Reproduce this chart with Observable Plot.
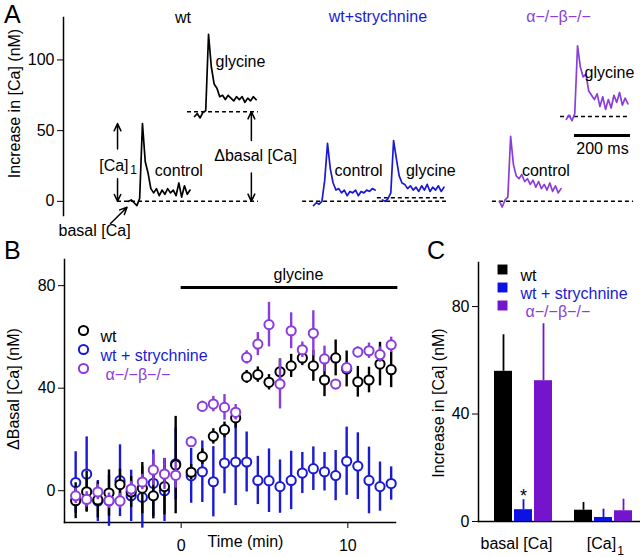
<!DOCTYPE html>
<html><head><meta charset="utf-8">
<script src="https://cdn.jsdelivr.net/npm/d3@7"></script>
<script src="https://cdn.jsdelivr.net/npm/@observablehq/plot@0.6"></script>
<style>
html,body{margin:0;padding:0;background:#fff;}
#fig{position:relative;width:640px;height:557px;overflow:hidden;font-family:"Liberation Sans",Arial,Helvetica,sans-serif;}
.letter{position:absolute;font-size:25px;line-height:1;color:#000;}
</style></head><body><div id="fig"></div>
<script>
// ---------------- data ----------------
const seriesNames = ["wt", "wt + strychnine", "α−/−β−/−"];
const seriesColors = ["#000000", "#1a1ad4", "#8a3cdc"];
const barColors = ["#000000", "#0c12e4", "#7414cc"];

// Panel A: example traces (nM), one sample every 10 ms
const traceStep = 10;
const wtControl = [0, 1, -1, -3, 2, 55, 28, 20, 9, 6, 9, 4, 8, 5, 9, 6, 8, 4, 13, 3, 11, 5, 8];
const wtGlycine = [60, 62, 59, 63, 64, 118, 95, 83, 80, 74, 75, 72, 75, 73, 71, 74, 72, 74, 70, 73, 71, 74, 72];
const strControl = [-3, -1, -2, 0, 15, 41, 23, 13, 8, 9, 6, 8, 4, 7, 6, 8, 4, 7, 6, 8, 7, 9, 8];
const strGlycine = [1, 0, 2, 6, 43, 30, 18, 13, 12, 9, 11, 8, 10, 7, 11, 8, 12, 7, 10, 8, 11, 7, 10];
const abControl = [0, -4, 1, 3, 46, 26, 18, 16, 19, 14, 16, 12, 15, 10, 14, 9, 12, 8, 13, 7, 11, 6, 9];
const abGlycine = [58, 61, 57, 62, 110, 95, 88, 90, 78, 75, 72, 76, 67, 74, 65, 72, 66, 75, 70, 77, 68, 73, 69];
const traceStartMs = [232, 468, 893, 1139, 1557, 1796];
const aTicks = [0, 50, 100];

// Panel B: time course
const times = [-6.33, -5.67, -5, -4.33, -3.67, -3, -2.33, -1.67, -1, -0.33,
  0.6, 1.27, 1.93, 2.6, 3.27, 3.93, 4.6, 5.27, 5.93, 6.6, 7.27, 7.93, 8.6, 9.27, 9.93, 10.6, 11.27, 11.93, 12.6];
const wtMean = [-3.9, -0.4, -3.6, -0.9, 2.4, -0.5, 1.0, -2.0, 1.6, 10.0,
  7.2, 13.3, 21.2, 23.8, 28.4, 44.4, 45.3, 42.3, 46.4, 48.7, 51.8, 48.7, 43.2, 51.8, 47.5, 42.5, 43.2, 49.4, 47.2];
const wtErr = [7, 8, 7, 9, 6, 6, 10, 9, 11, 19,
  3, 3, 3, 3, 4, 2.5, 3, 3, 5, 4.5, 3, 6, 6.5, 7, 7, 6, 5, 8.5, 7];
const strMean = [3.2, 6.5, -4.0, -3.9, 3.9, -2.0, -2.6, 2.9, 0.0, 10.5,
  5.8, 7.4, 3.5, 10.8, 11.2, 11.2, 4.0, 3.9, 1.6, 4.0, 6.9, 8.6, 7.4, 5.9, 11.5, 9.6, 4.0, 1.6, 2.8];
const strErr = [12, 14.5, 8, 10, 14, 10, 12, 13, 12, 14,
  10.7, 12, 13.7, 12, 17, 11.7, 9.4, 12.4, 10.4, 11.4, 8, 8.5, 7.5, 9.8, 13.3, 13, 13, 9.6, 6.5];
const abMean = [-2.0, -3.4, -0.5, -3.9, -4.0, 0.65, 3.4, 8.1, 6.5, 6.0,
  19.1, 32.9, 33.8, 32.5, 30.6, 52.0, 57.2, 64.8, 41.6, 62.4, 55.0, 61.4, 51.4, 41.6, 48.0, 54.1, 54.6, 53.1, 56.9];
const abErr = [3, 3, 3, 3, 3, 3, 3, 6, 6, 5,
  2, 2, 3, 5, 3, 2.6, 4.5, 8.7, 9.7, 7, 3, 8.8, 5, 1.5, 2, 2, 3, 3, 3];
const glycinePeriod = [0, 13];
const bYTicks = [0, 40, 80];
const bXTicks = [0, 10];

// Panel C: summary bars
const cGroups = ["basal", "ca1"];
const cGroupLabels = ["basal [Ca]", "[Ca]"];
const cGroupSubs = ["", "1"];
const cMeans = [[55.9, 4.2], [4.4, 1.5], [52.4, 4.0]];
const cErrs = [[13.6, 2.9], [3.7, 3.1], [21.2, 4.3]];
const cSig = [["", ""], ["*", ""], ["", ""]];
const cYTicks = [0, 40, 80];

// ---------------- layout ----------------
const FONT = '"Liberation Sans", Arial, Helvetica, sans-serif';
const fig = document.getElementById("fig");
function place(el, left, top) {
  el.style.position = "absolute"; el.style.left = left + "px"; el.style.top = top + "px";
  fig.appendChild(el);
}
function letter(t, left, top) {
  const d = document.createElement("div"); d.className = "letter"; d.textContent = t;
  d.style.left = left + "px"; d.style.top = top + "px"; fig.appendChild(d);
}
const baseStyle = {fontFamily: FONT, fontSize: "16px", background: "transparent", color: "#000", overflow: "visible"};

// ---------------- Panel A ----------------
const traceList = [
  {v: wtControl, c: seriesColors[0]}, {v: wtGlycine, c: seriesColors[0]},
  {v: strControl, c: seriesColors[1]}, {v: strGlycine, c: seriesColors[1]},
  {v: abControl, c: seriesColors[2]}, {v: abGlycine, c: seriesColors[2]}
];
const traceMarks = traceList.map((t, k) =>
  Plot.line(t.v.map((v, i) => ({ms: traceStartMs[k] + i * traceStep, v})),
    {x: "ms", y: "v", stroke: t.c, strokeWidth: 1.7, strokeLinejoin: "round"}));

const baselines = [
  {x1: 193, x2: 696, y: 0}, {x1: 443, x2: 696, y: 63.4},
  {x1: 854, x2: 1368, y: 0}, {x1: 1121, x2: 1368, y: 2.5},
  {x1: 1532, x2: 2036, y: 0}, {x1: 1775, x2: 2025, y: 60}
];
const arrows = [
  {x1: 193, y1: 37, x2: 193, y2: 55}, {x1: 193, y1: 16, x2: 193, y2: 0},
  {x1: 671, y1: 43, x2: 671, y2: 63.4}, {x1: 671, y1: 20, x2: 671, y2: 0},
  {x1: 168, y1: -15.7, x2: 227, y2: -4.2}
];
const aLabels = [
  {x: 427, y: 129.7, t: "wt", c: seriesColors[0]},
  {x: 1123, y: 130.7, t: "wt+strychnine", c: seriesColors[1]},
  {x: 1768, y: 130.7, t: "α−/−β−/−", c: seriesColors[2]},
  {x: 632, y: 98.4, t: "glycine", c: "#000"},
  {x: 412, y: 21.8, t: "control", c: "#000"},
  {x: 1054, y: 21.8, t: "control", c: "#000"},
  {x: 1312, y: 21.8, t: "glycine", c: "#000"},
  {x: 1723, y: 21.8, t: "control", c: "#000"},
  {x: 1950, y: 91, t: "glycine", c: "#000"},
  {x: 1925, y: 37.3, t: "200 ms", c: "#000"},
  {x: 180, y: 25.3, t: "[Ca]", c: "#000"},
  {x: 686, y: 32.4, t: "Δbasal [Ca]", c: "#000"},
  {x: 111, y: -20.6, t: "basal [Ca]", c: "#000"}
];
const scaleBar = [{x1: 1825, x2: 2025, y: 46.5}];

const plotA = Plot.plot({
  width: 640, height: 240,
  marginLeft: 63, marginRight: 5, marginTop: 17, marginBottom: 25,
  style: baseStyle,
  x: {domain: [0, 2043], axis: null},
  y: {domain: [-10, 130]},
  marks: [
    Plot.frame({anchor: "left", strokeWidth: 1.5}),
    Plot.axisY({ticks: aTicks, tickSize: 6, tickPadding: 3, label: null}),
    Plot.text(["Increase in [Ca] (nM)"], {frameAnchor: "left", textAnchor: "middle", rotate: -90, dx: -49, dy: -13, text: d => d}),
    Plot.ruleY(baselines, {x1: "x1", x2: "x2", y: "y", stroke: "#000", strokeWidth: 1.5, strokeDasharray: "4,3"}),
    ...traceMarks,
    Plot.arrow(arrows, {x1: "x1", y1: "y1", x2: "x2", y2: "y2", stroke: "#000", strokeWidth: 1.5, headLength: 8, headAngle: 50}),
    Plot.ruleY(scaleBar, {x1: "x1", x2: "x2", y: "y", stroke: "#000", strokeWidth: 3}),
    Plot.text(aLabels, {x: "x", y: "y", text: "t", fill: "c"}),
    Plot.text(["1"], {x: () => 250, y: () => 21.8, text: d => d, fontSize: 12})
  ]
});
place(plotA, 0, 0);

// ---------------- Panel B ----------------
const bSeries = [
  {mean: strMean, err: strErr, color: seriesColors[1]},
  {mean: wtMean, err: wtErr, color: seriesColors[0]},
  {mean: abMean, err: abErr, color: seriesColors[2]}
];
const bMarks = bSeries.flatMap(s => {
  const rows = times.map((t, i) => ({t, m: s.mean[i], e: s.err[i]}));
  return [
    Plot.ruleX(rows, {x: "t", y1: d => d.m - d.e, y2: d => d.m + d.e, stroke: s.color, strokeWidth: 2.4}),
    Plot.dot(rows, {x: "t", y: "m", r: 4.6, stroke: s.color, strokeWidth: 2, fill: "white"})
  ];
});
const bLegend = seriesNames.flatMap((n, i) => [
  Plot.dot([n], {frameAnchor: "top-left", dx: 19, dy: 71 + 19 * i, r: 4.6, stroke: seriesColors[i], strokeWidth: 2, fill: "white"}),
  Plot.text([n], {frameAnchor: "top-left", dx: 36 + (i === 2 ? 5 : 0), dy: 71 + 19 * i, text: d => d, textAnchor: "start", fill: seriesColors[i]})
]);
const plotB = Plot.plot({
  width: 420, height: 300,
  marginLeft: 64, marginRight: 25, marginTop: 4, marginBottom: 33,
  style: baseStyle,
  x: {domain: [-7, 12.86]},
  y: {domain: [-12.4, 90.2]},
  marks: [
    Plot.frame({anchor: "left", strokeWidth: 1.5}),
    Plot.frame({anchor: "bottom", strokeWidth: 1.5}),
    Plot.axisY({ticks: bYTicks, tickSize: 6, tickPadding: 3, label: null}),
    Plot.axisX({ticks: bXTicks, tickSize: 6, tickPadding: 11, label: null}),
    Plot.text(["ΔBasal [Ca] (nM)"], {frameAnchor: "left", textAnchor: "middle", rotate: -90, dx: -51, dy: -2, text: d => d}),
    Plot.text(["Time (min)"], {x: () => 3.86, frameAnchor: "bottom", textAnchor: "middle", dy: 24, text: d => d}),
    Plot.ruleY([glycinePeriod], {x1: d => d[0], x2: d => d[1], y: () => 79.3, stroke: "#000", strokeWidth: 3}),
    Plot.text([glycinePeriod], {x: d => (d[0] + d[1]) / 2, y: () => 79.3, dx: 9, dy: -13, text: () => "glycine"}),
    ...bMarks,
    ...bLegend
  ]
});
place(plotB, 0, 255);

// ---------------- Panel C ----------------
const cKeys = [];
cGroups.forEach((g, gi) => { if (gi) cKeys.push("gap"); seriesNames.forEach(s => cKeys.push(g + "|" + s)); });
const cRows = cGroups.flatMap((g, gi) => seriesNames.map((s, si) =>
  ({key: g + "|" + s, series: s, v: cMeans[si][gi], e: cErrs[si][gi], sig: cSig[si][gi]})));
const cLegend = seriesNames.flatMap((n, i) => [
  Plot.dot([n], {frameAnchor: "top-left", dx: 24, dy: 7 + 18 * i, symbol: "square", r: 5.6, fill: barColors[i]}),
  Plot.text([n], {frameAnchor: "top-left", dx: 42 + (i === 2 ? 5 : 0), dy: 7 + 18 * i, text: d => d, textAnchor: "start", fill: seriesColors[i]})
]);
const plotC = Plot.plot({
  width: 220, height: 300,
  marginLeft: 58, marginRight: 0, marginTop: 7, marginBottom: 34,
  style: baseStyle,
  x: {domain: cKeys, paddingInner: 0.1, paddingOuter: 0.6, align: 0.667, axis: null},
  y: {domain: [0, 96.4]},
  color: {domain: seriesNames, range: barColors},
  marks: [
    Plot.frame({anchor: "left", strokeWidth: 1.5}),
    Plot.frame({anchor: "bottom", strokeWidth: 1.5}),
    Plot.axisY({ticks: cYTicks, tickSize: 6, tickPadding: 3, label: null}),
    Plot.text(["Increase in [Ca] (nM)"], {frameAnchor: "left", textAnchor: "middle", rotate: -90, dx: -40, dy: 11, text: d => d}),
    Plot.ruleX(cRows, {x: "key", y1: "v", y2: d => d.v + d.e, stroke: "series", strokeWidth: 1.8}),
    Plot.barY(cRows, {x: "key", y: "v", fill: "series"}),
    Plot.text(cRows.filter(d => d.sig), {x: "key", y: d => d.v + d.e, text: "sig", dy: -4, fontSize: 18}),
    ...cGroups.map((g, i) => Plot.text([g], {x: d => d + "|" + seriesNames[1], frameAnchor: "bottom", dy: 27, dx: i === 0 ? -7 : -2, text: () => cGroupLabels[i]})),
    ...cGroups.map((g, i) => Plot.text([g], {x: d => d + "|" + seriesNames[1], frameAnchor: "bottom", dy: 33, dx: 17, text: () => cGroupSubs[i], fontSize: 12})),
    ...cLegend
  ]
});
place(plotC, 420, 255);

letter("A", 4, 2);
letter("B", 4, 238);
letter("C", 427, 238);
</script>
</body></html>
